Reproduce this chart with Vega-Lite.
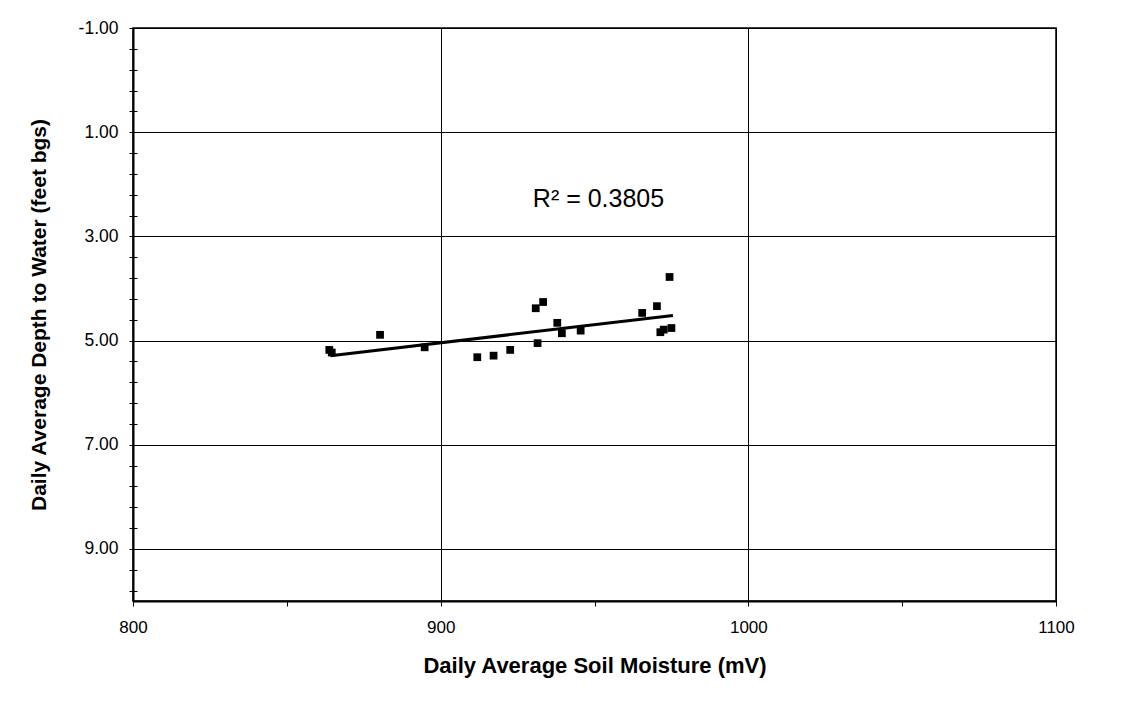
{
  "$schema": "https://vega.github.io/schema/vega-lite/v6.json",
  "width": 923,
  "height": 573,
  "autosize": {"type": "none"},
  "padding": {"left": 133, "top": 28, "right": 76, "bottom": 101},
  "background": "white",
  "config": {
    "font": "Liberation Sans",
    "view": {"stroke": "#000", "strokeWidth": 1.5},
    "axis": {
      "labelFont": "Liberation Sans",
      "titleFont": "Liberation Sans",
      "labelColor": "#000",
      "titleColor": "#000",
      "tickColor": "#000",
      "domainColor": "#000",
      "gridColor": "#000",
      "gridWidth": 1
    }
  },
  "datasets": {
    "points": [
      {"moisture": 863.8, "depth": 5.18},
      {"moisture": 864.6, "depth": 5.23},
      {"moisture": 880.3, "depth": 4.89},
      {"moisture": 894.8, "depth": 5.13},
      {"moisture": 911.9, "depth": 5.32},
      {"moisture": 917.2, "depth": 5.29},
      {"moisture": 922.6, "depth": 5.18},
      {"moisture": 930.9, "depth": 4.38},
      {"moisture": 933.3, "depth": 4.26},
      {"moisture": 931.5, "depth": 5.05},
      {"moisture": 937.9, "depth": 4.66},
      {"moisture": 939.4, "depth": 4.86},
      {"moisture": 945.5, "depth": 4.81},
      {"moisture": 965.5, "depth": 4.47},
      {"moisture": 970.3, "depth": 4.34},
      {"moisture": 974.4, "depth": 3.78},
      {"moisture": 971.4, "depth": 4.84},
      {"moisture": 972.5, "depth": 4.79},
      {"moisture": 975.0, "depth": 4.76}
    ],
    "trend": [
      {"moisture": 864.2, "depth": 5.29},
      {"moisture": 975.5, "depth": 4.52}
    ]
  },
  "layer": [
    {
      "data": {"name": "trend"},
      "mark": {"type": "line", "color": "#000", "strokeWidth": 3},
      "encoding": {
        "x": {
          "field": "moisture",
          "type": "quantitative",
          "scale": {"domain": [800, 1100], "nice": false, "zero": false},
          "axis": {
            "values": [800, 850, 900, 950, 1000, 1050, 1100],
            "labelExpr": "datum.value % 100 === 0 ? datum.label : ''",
            "format": "d",
            "tickSize": 5,
            "tickWidth": 1,
            "domainWidth": 2,
            "grid": true,
            "gridOpacity": {"condition": {"test": "datum.value % 100 === 0", "value": 1}, "value": 0},
            "labelFontSize": 17,
            "labelPadding": 13,
            "labelFlush": false,
            "title": "Daily Average Soil Moisture (mV)",
            "titleFontSize": 22,
            "titleFontWeight": "bold",
            "titleBaseline": "alphabetic",
            "titleY": 71
          }
        },
        "y": {
          "field": "depth",
          "type": "quantitative",
          "scale": {"domain": [-1, 10], "reverse": true, "nice": false, "zero": false},
          "axis": {
            "orient": "left",
            "values": [-1, 1, 3, 5, 7, 9],
            "labelExpr": "datum.value < 0 ? '-' + format(abs(datum.value), '.2f') : format(datum.value, '.2f')",
            "tickSize": 4,
            "tickWidth": 1,
            "domainWidth": 2,
            "grid": true,
            "labelFontSize": 17.5,
            "labelPadding": 11,
            "labelFlush": false,
            "title": "Daily Average Depth to Water (feet bgs)",
            "titleFontSize": 21,
            "titleFontWeight": "bold",
            "titleBaseline": "alphabetic",
            "titleX": -88
          }
        }
      }
    },
    {
      "data": {"name": "points"},
      "mark": {"type": "square", "size": 60, "color": "#000", "filled": true, "opacity": 1},
      "encoding": {
        "x": {"field": "moisture", "type": "quantitative"},
        "y": {
          "field": "depth",
          "type": "quantitative",
          "axis": {
            "orient": "left",
            "values": [-0.6, -0.2, 0.2, 0.6, 1.4, 1.8, 2.2, 2.6, 3.4, 3.8, 4.2, 4.6, 5.4, 5.8, 6.2, 6.6, 7.4, 7.8, 8.2, 8.6, 9.4, 9.8],
            "offset": -4,
            "tickSize": 8,
            "tickWidth": 1,
            "domain": false,
            "labels": false,
            "grid": false,
            "title": null
          }
        }
      }
    },
    {
      "data": {"values": [{"label": "R² = 0.3805"}]},
      "mark": {"type": "text", "fontSize": 25, "font": "Liberation Sans", "color": "#000", "align": "center", "baseline": "alphabetic"},
      "encoding": {
        "x": {"datum": 951.3, "type": "quantitative"},
        "y": {"datum": 2.44, "type": "quantitative", "axis": null},
        "text": {"field": "label", "type": "nominal"}
      }
    }
  ],
  "resolve": {"axis": {"y": "independent"}}
}
